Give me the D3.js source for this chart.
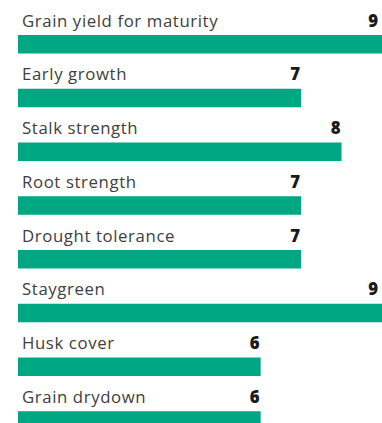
<!DOCTYPE html>
<html>
<head>
<meta charset="utf-8">
<script src="https://cdn.jsdelivr.net/npm/d3@7"></script>
<style>
  html, body { margin: 0; padding: 0; background: #fff; }
  svg { display: block; }
</style>
</head>
<body>
<svg id="chart" width="382" height="423"></svg>
<script>
// Trait ratings
const traits = [
  "Grain yield for maturity",
  "Early growth",
  "Stalk strength",
  "Root strength",
  "Drought tolerance",
  "Staygreen",
  "Husk cover",
  "Grain drydown"
];
const ratings = [9, 7, 8, 7, 7, 9, 6, 6];
const maxRating = [9];

const width = 382, height = 423;
const svg = d3.select("#chart");

const x = d3.scaleLinear().domain([0, maxRating[0]]).range([18, 382]);
const y = d3.scaleBand().domain(traits).range([8.5, 438.5]).paddingInner(0).paddingOuter(0);

const rows = svg.selectAll("g.row")
  .data(traits.map((t, i) => ({ trait: t, value: ratings[i] })))
  .join("g")
  .attr("class", "row")
  .attr("transform", d => `translate(0,${y(d.trait)})`);

rows.append("rect")
  .attr("x", x(0))
  .attr("y", 26.5)
  .attr("width", d => x(d.value) - x(0))
  .attr("height", 18.5)
  .attr("fill", "#00A783");

rows.append("text")
  .attr("x", 22)
  .attr("y", 18)
  .attr("font-family", "'Open Sans', sans-serif")
  .attr("font-size", 16.8)
  .attr("letter-spacing", 0.6)
  .attr("fill", "#404040")
  .text(d => d.trait);

rows.append("text")
  .attr("x", d => Math.min(x(d.value) - 1, width - 4))
  .attr("y", 18)
  .attr("text-anchor", "end")
  .attr("font-family", "'Open Sans', sans-serif")
  .attr("font-weight", 800)
  .attr("font-size", 16.8)
  .attr("fill", "#1a1a1a")
  .text(d => d.value);
</script>
</body>
</html>
